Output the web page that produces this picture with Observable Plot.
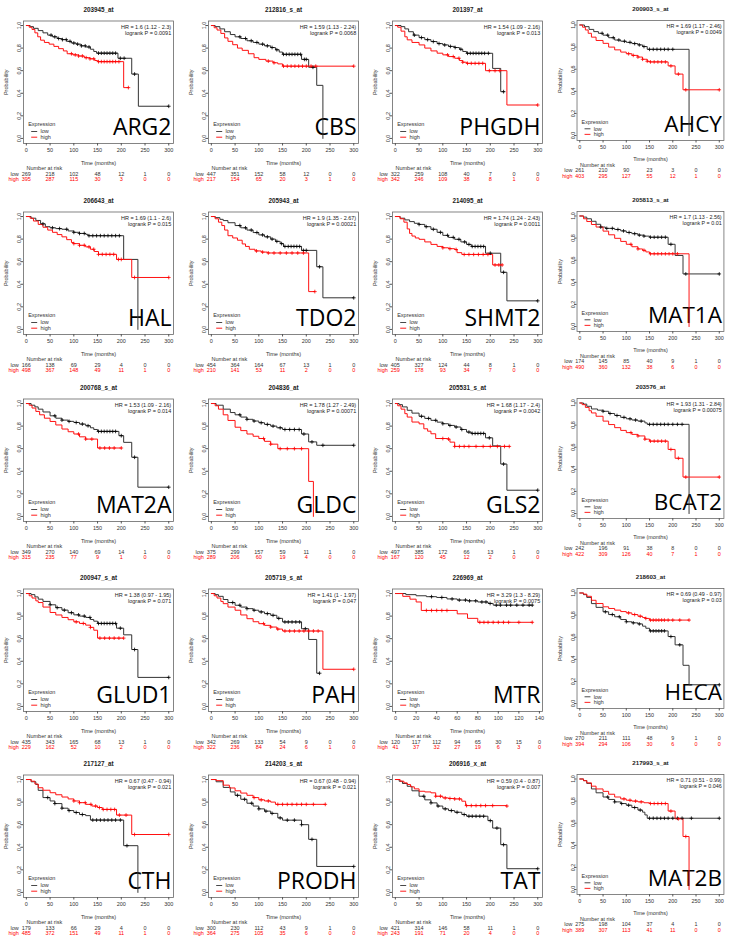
<!DOCTYPE html>
<html><head><meta charset="utf-8">
<script src="https://cdn.jsdelivr.net/npm/d3@7"></script>
<script src="https://cdn.jsdelivr.net/npm/@observablehq/plot@0.6"></script>
<style>
body{margin:0;background:#fff}
#grid{position:relative;width:734px;height:940px;overflow:hidden;background:#fff}
.panel{position:absolute}
.panel svg{overflow:visible}
</style>
</head><body><div id="grid"></div>
<script>
// ---------- data ----------
const probes = ["203945_at","212816_s_at","201397_at","200903_s_at","206643_at","205943_at","214095_at","205813_s_at","200768_s_at","204836_at","205531_s_at","203576_at","200947_s_at","205719_s_at","226969_at","218603_at","217127_at","214203_s_at","206916_x_at","217993_s_at"];
const genes = ["ARG2","CBS","PHGDH","AHCY","HAL","TDO2","SHMT2","MAT1A","MAT2A","GLDC","GLS2","BCAT2","GLUD1","PAH","MTR","HECA","CTH","PRODH","TAT","MAT2B"];
const hrLabels = ["HR = 1.6 (1.12 - 2.3)","HR = 1.59 (1.13 - 2.24)","HR = 1.54 (1.09 - 2.16)","HR = 1.69 (1.17 - 2.46)","HR = 1.69 (1.1 - 2.6)","HR = 1.9 (1.35 - 2.67)","HR = 1.74 (1.24 - 2.43)","HR = 1.7 (1.13 - 2.56)","HR = 1.53 (1.09 - 2.16)","HR = 1.78 (1.27 - 2.49)","HR = 1.68 (1.17 - 2.4)","HR = 1.93 (1.31 - 2.84)","HR = 1.38 (0.97 - 1.95)","HR = 1.41 (1 - 1.97)","HR = 3.29 (1.3 - 8.29)","HR = 0.69 (0.49 - 0.97)","HR = 0.67 (0.47 - 0.94)","HR = 0.67 (0.48 - 0.94)","HR = 0.59 (0.4 - 0.87)","HR = 0.71 (0.51 - 0.99)"];
const pLabels = ["0.0091","0.0068","0.013","0.0049","0.015","0.00021","0.0011","0.01","0.014","0.00071","0.0042","0.00075","0.071","0.047","0.0075","0.03","0.021","0.021","0.007","0.046"];
const timeTicks = [0,50,100,150,200,250,300];
const timeTicksMTR = [0,20,40,60,80,100,120,140];
const probTicks = [0,0.2,0.4,0.6,0.8,1.0];
const riskLow = [
 [269,218,102,48,12,1,0],[447,351,152,58,12,0,0],[322,259,108,40,7,0,0],[261,210,90,23,3,0,0],
 [166,138,69,29,4,0,0],[454,364,164,67,13,1,0],[405,327,124,44,8,1,0],[174,145,85,40,9,1,0],
 [349,270,140,69,14,1,0],[375,299,157,59,11,1,0],[497,385,172,66,13,1,0],[242,196,91,38,8,0,0],
 [435,343,165,68,13,1,0],[342,269,133,54,9,0,0],[120,117,112,94,65,30,15,0],[270,211,111,48,9,1,0],
 [179,133,66,29,4,0,0],[300,230,112,43,9,1,0],[421,314,146,58,11,1,0],[275,198,104,37,4,1,0]];
const riskHigh = [
 [395,287,115,30,3,0,0],[217,154,65,20,3,1,0],[342,246,109,38,8,1,0],[403,295,127,55,12,1,0],
 [498,367,148,49,11,1,0],[210,141,53,11,2,0,0],[259,178,93,34,7,0,0],[490,360,132,38,6,0,0],
 [315,235,77,9,1,0,0],[289,206,60,19,4,0,0],[167,120,45,12,2,0,0],[422,309,126,40,7,1,0],
 [229,162,52,10,2,0,0],[322,236,84,24,6,1,0],[41,37,32,27,19,6,3,0],[394,294,106,30,6,0,0],
 [485,372,151,49,11,1,0],[364,275,105,35,6,0,0],[243,191,71,20,4,0,0],[389,307,113,41,11,0,0]];
// Kaplan-Meier step points [time, survival] for the "low" group
const lowCurves = [
 [[0,1],[8,0.99],[15,0.975],[25,0.955],[35,0.935],[45,0.915],[55,0.9],[65,0.885],[75,0.875],[85,0.86],[95,0.845],[105,0.835],[115,0.82],[125,0.81],[135,0.79],[142,0.77],[148,0.755],[193,0.71],[222,0.57],[236,0.285],[300,0.285]],
 [[0,1],[8,0.99],[18,0.97],[28,0.945],[40,0.92],[50,0.9],[62,0.885],[75,0.865],[88,0.85],[100,0.835],[112,0.82],[125,0.805],[135,0.785],[143,0.765],[150,0.745],[190,0.7],[205,0.63],[222,0.47],[235,0]],
 [[0,1],[12,0.99],[20,0.97],[28,0.945],[38,0.915],[50,0.893],[62,0.875],[75,0.858],[88,0.84],[100,0.828],[112,0.815],[125,0.805],[135,0.79],[142,0.77],[150,0.754],[205,0.62],[222,0.414],[230,0.414]],
 [[0,1],[10,0.985],[20,0.96],[30,0.94],[40,0.925],[50,0.908],[62,0.885],[75,0.864],[88,0.853],[100,0.843],[112,0.832],[125,0.82],[135,0.805],[145,0.78],[235,0]],
 [[0,1],[10,0.985],[20,0.965],[30,0.935],[40,0.91],[50,0.9],[62,0.893],[75,0.887],[88,0.872],[100,0.86],[112,0.85],[125,0.842],[130,0.83],[205,0.62],[235,0]],
 [[0,1],[8,0.99],[18,0.975],[25,0.964],[35,0.945],[50,0.92],[62,0.9],[75,0.88],[88,0.858],[100,0.837],[112,0.82],[125,0.8],[135,0.78],[145,0.76],[152,0.735],[190,0.7],[222,0.555],[235,0.28],[300,0.28]],
 [[0,1],[10,0.985],[20,0.97],[30,0.955],[40,0.94],[50,0.93],[62,0.91],[75,0.887],[88,0.86],[100,0.833],[112,0.815],[125,0.798],[138,0.775],[150,0.753],[160,0.735],[190,0.675],[222,0.506],[235,0.253],[300,0.253]],
 [[0,1],[8,0.99],[15,0.975],[25,0.952],[35,0.925],[45,0.9],[55,0.888],[75,0.878],[88,0.865],[100,0.851],[112,0.84],[125,0.827],[138,0.818],[150,0.808],[190,0.744],[205,0.643],[222,0.476],[300,0.476]],
 [[0,1],[10,0.985],[18,0.97],[25,0.95],[35,0.925],[50,0.891],[62,0.87],[75,0.853],[88,0.842],[100,0.832],[112,0.818],[125,0.803],[135,0.785],[142,0.77],[150,0.753],[195,0.715],[205,0.656],[222,0.524],[235,0.259],[300,0.259]],
 [[0,1],[10,0.985],[25,0.95],[40,0.92],[50,0.9],[62,0.88],[75,0.86],[88,0.845],[100,0.83],[112,0.815],[125,0.8],[138,0.785],[150,0.77],[190,0.73],[205,0.66],[222,0.63],[300,0.63]],
 [[0,1],[8,0.99],[15,0.97],[25,0.94],[35,0.915],[50,0.887],[62,0.868],[75,0.851],[88,0.835],[100,0.821],[112,0.806],[125,0.792],[138,0.77],[150,0.747],[160,0.735],[190,0.696],[205,0.625],[222,0.464],[235,0.232],[300,0.232]],
 [[0,1],[8,0.99],[15,0.97],[25,0.946],[38,0.935],[50,0.925],[62,0.905],[75,0.887],[88,0.87],[100,0.857],[112,0.846],[125,0.836],[140,0.82],[145,0.807],[235,0]],
 [[0,1],[10,0.99],[18,0.97],[25,0.95],[35,0.93],[50,0.9],[62,0.875],[75,0.853],[88,0.83],[100,0.811],[112,0.8],[125,0.788],[135,0.77],[142,0.755],[150,0.735],[190,0.693],[205,0.634],[222,0.504],[235,0.257],[300,0.257]],
 [[0,1],[8,0.99],[15,0.975],[25,0.947],[35,0.92],[50,0.896],[62,0.88],[75,0.866],[88,0.852],[100,0.837],[112,0.822],[125,0.807],[138,0.78],[150,0.748],[190,0.688],[205,0.593],[222,0.294],[228,0.294]],
 [[0,1],[10,0.99],[20,0.98],[30,0.972],[40,0.965],[50,0.952],[60,0.942],[70,0.935],[80,0.925],[90,0.912],[95,0.897],[133,0.897]],
 [[0,1],[8,0.985],[15,0.96],[25,0.904],[35,0.87],[50,0.83],[62,0.805],[75,0.785],[88,0.76],[100,0.74],[112,0.73],[125,0.72],[135,0.7],[142,0.681],[150,0.657],[190,0.606],[205,0.531],[222,0.346],[235,0.17],[300,0.17]],
 [[0,1],[10,0.98],[20,0.956],[25,0.904],[35,0.84],[50,0.81],[60,0.787],[75,0.746],[88,0.725],[100,0.708],[112,0.69],[125,0.68],[135,0.641],[205,0.414],[235,0]],
 [[0,1],[10,0.98],[25,0.93],[40,0.89],[50,0.86],[62,0.825],[75,0.79],[88,0.765],[100,0.74],[112,0.72],[125,0.7],[140,0.66],[150,0.64],[190,0.6],[205,0.47],[222,0.23],[300,0.23]],
 [[0,1],[8,0.985],[15,0.965],[25,0.94],[35,0.9],[50,0.852],[62,0.82],[75,0.793],[88,0.765],[100,0.74],[112,0.725],[125,0.71],[140,0.69],[150,0.675],[195,0.636],[205,0.57],[222,0.423],[235,0.21],[300,0.21]],
 [[0,1],[8,0.985],[15,0.96],[25,0.91],[35,0.875],[50,0.837],[62,0.815],[75,0.793],[88,0.778],[100,0.763],[112,0.742],[125,0.719],[135,0.7],[140,0.675],[145,0.645],[300,0.645]]];
// Kaplan-Meier step points [time, survival] for the "high" group
const highCurves = [
 [[0,1],[6,0.985],[12,0.965],[18,0.935],[24,0.9],[30,0.87],[38,0.85],[48,0.835],[58,0.815],[68,0.795],[78,0.775],[86,0.75],[98,0.74],[110,0.73],[122,0.715],[134,0.705],[144,0.69],[150,0.68],[205,0.45],[215,0.45]],
 [[0,1],[6,0.98],[12,0.96],[20,0.93],[28,0.89],[35,0.86],[45,0.83],[55,0.8],[65,0.78],[78,0.75],[90,0.715],[100,0.7],[115,0.685],[130,0.67],[140,0.66],[150,0.64],[300,0.64]],
 [[0,1],[5,0.985],[12,0.95],[20,0.9],[25,0.873],[35,0.85],[50,0.828],[62,0.8],[75,0.775],[88,0.755],[100,0.74],[112,0.725],[125,0.71],[135,0.69],[142,0.675],[150,0.665],[190,0.6],[235,0.296],[300,0.296]],
 [[0,1],[6,0.98],[12,0.955],[18,0.925],[25,0.89],[35,0.86],[50,0.834],[62,0.8],[75,0.775],[88,0.755],[100,0.74],[112,0.725],[125,0.71],[135,0.69],[145,0.672],[150,0.666],[190,0.63],[205,0.556],[222,0.414],[300,0.414]],
 [[0,1],[8,0.985],[15,0.96],[25,0.93],[35,0.905],[45,0.88],[55,0.86],[65,0.84],[75,0.82],[85,0.795],[95,0.77],[100,0.76],[112,0.745],[125,0.731],[135,0.71],[143,0.69],[152,0.665],[190,0.62],[222,0.46],[300,0.46]],
 [[0,1],[8,0.98],[15,0.95],[22,0.92],[28,0.88],[35,0.83],[45,0.81],[55,0.79],[65,0.757],[72,0.735],[80,0.71],[92,0.695],[105,0.685],[118,0.677],[205,0.335],[218,0.335]],
 [[0,1],[10,0.98],[18,0.95],[25,0.89],[30,0.85],[35,0.827],[42,0.81],[50,0.798],[62,0.775],[75,0.753],[88,0.735],[100,0.723],[112,0.715],[125,0.708],[130,0.68],[140,0.664],[205,0.571],[225,0.571]],
 [[0,1],[8,0.975],[15,0.95],[25,0.923],[35,0.9],[50,0.863],[62,0.83],[75,0.798],[88,0.77],[100,0.744],[112,0.722],[125,0.702],[135,0.69],[142,0.675],[150,0.658],[235,0]],
 [[0,1],[6,0.985],[12,0.96],[20,0.93],[28,0.9],[38,0.87],[50,0.841],[62,0.81],[75,0.774],[88,0.75],[100,0.73],[112,0.705],[125,0.685],[150,0.606],[200,0.606]],
 [[0,1],[8,0.98],[15,0.95],[25,0.9],[35,0.85],[50,0.79],[62,0.76],[75,0.73],[88,0.71],[100,0.69],[112,0.665],[125,0.64],[140,0.6],[205,0.31],[215,0]],
 [[0,1],[5,0.98],[12,0.95],[20,0.91],[25,0.88],[35,0.836],[50,0.82],[60,0.776],[68,0.755],[75,0.732],[85,0.69],[110,0.685],[115,0.658],[125,0.62],[240,0.62]],
 [[0,1],[5,0.985],[12,0.96],[20,0.93],[25,0.91],[35,0.88],[50,0.836],[62,0.805],[75,0.777],[88,0.752],[100,0.732],[112,0.716],[125,0.702],[140,0.673],[150,0.655],[190,0.58],[205,0.5],[222,0.33],[300,0.33]],
 [[0,1],[6,0.98],[12,0.96],[20,0.935],[25,0.92],[35,0.88],[50,0.832],[62,0.81],[75,0.788],[88,0.768],[100,0.749],[112,0.735],[125,0.72],[135,0.7],[142,0.675],[150,0.605],[205,0.605]],
 [[0,1],[6,0.98],[12,0.96],[20,0.93],[25,0.91],[35,0.88],[50,0.852],[62,0.81],[75,0.777],[88,0.75],[100,0.733],[112,0.718],[125,0.703],[138,0.685],[150,0.668],[235,0.329],[300,0.329]],
 [[0,1],[7,0.975],[14,0.95],[20,0.925],[25,0.85],[60,0.82],[70,0.78],[80,0.745],[133,0.745]],
 [[0,1],[8,0.99],[15,0.97],[25,0.934],[35,0.905],[50,0.875],[62,0.86],[75,0.845],[88,0.832],[100,0.82],[112,0.805],[125,0.79],[135,0.778],[142,0.77],[150,0.755],[235,0.755]],
 [[0,1],[10,0.985],[18,0.96],[25,0.927],[35,0.905],[50,0.883],[62,0.865],[75,0.845],[88,0.828],[100,0.81],[112,0.795],[125,0.78],[138,0.765],[150,0.752],[160,0.735],[190,0.685],[222,0.513],[300,0.513]],
 [[0,1],[10,0.99],[25,0.95],[38,0.925],[50,0.9],[62,0.88],[75,0.86],[88,0.84],[100,0.82],[112,0.81],[125,0.8],[135,0.78],[240,0.78]],
 [[0,1],[10,0.985],[18,0.97],[25,0.956],[32,0.935],[40,0.917],[50,0.896],[62,0.89],[75,0.882],[85,0.852],[100,0.837],[112,0.832],[125,0.828],[140,0.808],[148,0.769],[235,0.765]],
 [[0,1],[8,0.985],[15,0.965],[25,0.935],[35,0.91],[50,0.888],[62,0.862],[75,0.837],[88,0.82],[100,0.808],[112,0.8],[125,0.793],[138,0.785],[150,0.778],[190,0.71],[205,0.64],[222,0.48],[235,0]]];
// censoring times (months)
const lowCensor = [
 [52,60,68,76,84,92,100,108,116,124,132,152,158,164,170,176,182,188,198,206,228,300],
 [60,72,84,96,108,118,128,138,152,158,164,170,176,182,188,196,200,214],
 [40,55,68,80,92,104,116,126,138,152,158,164,170,176,182,188,196,228],
 [48,60,72,84,96,108,118,128,138,150,158,166,174,182,190,200],
 [35,55,70,85,100,112,122,132,140,148,156,164,172,180,188,196],
 [60,72,84,96,108,118,128,138,148,155,162,168,174,180,186,194,200,228,300],
 [50,65,80,95,110,122,134,146,155,162,168,174,180,186,200,228,300],
 [45,58,70,82,94,106,118,128,138,152,160,168,176,184,196,228,300],
 [60,75,90,105,118,130,152,158,164,170,176,182,188,200,228,300],
 [60,75,90,105,118,130,145,155,165,175,185,195,212,235,300],
 [55,70,85,100,115,128,140,155,162,168,174,180,186,198,228,300],
 [50,65,80,95,108,120,132,150,158,166,174,182,190,200,210,220],
 [50,65,80,95,110,122,134,152,158,164,170,176,182,188,198,228,300],
 [45,60,75,90,105,118,130,142,155,162,170,178,186,198,228],
 [35,45,55,62,68,72,78,84,88,92,98,102,108,112,118,124,130,133],
 [55,70,85,100,115,128,152,158,164,170,176,182,196,215,300],
 [45,60,75,90,105,118,140,148,156,164,172,180,188,198,212],
 [55,70,85,100,115,128,145,160,175,190,212,300],
 [60,75,90,105,118,130,145,155,162,170,178,186,200,214,228,300],
 [60,75,90,105,118,130,150,158,166,174,182,190,200,210,220,240,300]];
const highCensor = [
 [95,103,110,118,126,134,142,152,158,164,170,176,182,188,195,215],
 [120,132,152,160,168,176,184,192,200,210,220,300],
 [110,122,134,142,152,160,168,176,184,198,210,220,300],
 [105,115,125,135,145,152,160,168,176,184,196,212,228,300],
 [100,112,122,132,142,152,160,168,176,184,194,200,228,300],
 [95,108,120,132,145,158,170,182,194,218],
 [100,115,128,145,155,165,175,185,195,210,218,225],
 [110,125,138,152,160,168,176,184,192,200,210],
 [110,125,138,155,165,175,185,200],
 [110,125,145,160,175,190],
 [100,112,125,135,145,155,170,185,200,215,230,240],
 [110,125,140,152,160,168,176,184,196,212,228,300],
 [105,120,135,155,165,175,185,195,205],
 [110,125,140,155,165,175,185,195,205,215,225,300],
 [30,35,40,45,50,82,86,90,95,100,105,110,120,133],
 [105,118,130,142,152,158,164,170,176,182,190,200,215,235],
 [100,112,124,136,146,154,162,170,178,186,196,210,228,300],
 [90,105,120,140,150,160,170,180,190,200,215,240],
 [85,95,105,115,125,135,150,160,170,180,190,205,235],
 [95,108,120,132,152,160,168,176,184,196,212,228]];

// ---------- layout ----------
const colLeft = [0, 184.6, 369.2, 553.8];
const rowTop = [0, 191, 378, 568, 754];
const FONT = "'Liberation Sans', Arial, sans-serif";
const INK = "#333", RED = "#f00";

function surv(curve, t) { let s = 1; for (const [ct, cs] of curve) if (ct <= t) s = cs; return s; }
const legendLine = {draw(ctx) { ctx.moveTo(-3, 0); ctx.lineTo(3, 0); }};

function panel(i) {
  const mtr = genes[i] === "MTR";
  const ticks = mtr ? timeTicksMTR : timeTicks;
  const low = lowCurves[i].map(([t, s]) => ({t, s}));
  const high = highCurves[i].map(([t, s]) => ({t, s}));
  const lowC = lowCensor[i].map(t => ({t, s: surv(lowCurves[i], t)}));
  const highC = highCensor[i].map(t => ({t, s: surv(highCurves[i], t)}));
  const fs = 5.5;
  return Plot.plot({
    width: 184, height: 190,
    marginLeft: 23, marginRight: 11, marginTop: 20.5, marginBottom: 47,
    x: {domain: mtr ? [-3, 143] : [-6, 310]},
    y: {domain: [-0.045, 1.04]},
    style: {fontFamily: FONT, fontSize: fs + "px", color: INK, background: "white", overflow: "visible"},
    marks: [
      Plot.frame({stroke: "#666", strokeWidth: 0.8}),
      Plot.axisX({ticks, tickSize: 2.5, tickPadding: 2.5, label: null, fontSize: fs, stroke: "#555"}),
      Plot.axisY({ticks: probTicks, tickSize: 2.5, tickFormat: () => "", label: null, stroke: "#555"}),
      Plot.text(probTicks, {y: d => d, frameAnchor: "left", text: d => d.toFixed(1), rotate: -90, dx: -4.2, textAnchor: "middle", lineAnchor: "middle", fontSize: fs, fill: INK}),
      Plot.text(["Probability"], {frameAnchor: "left", rotate: -90, dx: -17, textAnchor: "middle", lineAnchor: "middle", fontSize: fs, fill: INK}),
      Plot.text(["Time (months)"], {frameAnchor: "bottom", dy: 19.5, lineAnchor: "middle", fontSize: fs, fill: INK}),
      Plot.text([probes[i]], {frameAnchor: "top", dy: -11.3, lineAnchor: "middle", fontSize: 6.3, fontWeight: "bold", fill: "#222"}),
      Plot.text([hrLabels[i] + "\nlogrank P = " + pLabels[i]], {frameAnchor: "top-right", dx: -2.3, dy: 3.3, textAnchor: "end", lineAnchor: "top", lineHeight: 1.15, fontSize: 5.5, fill: "#222"}),
      Plot.text([genes[i]], {frameAnchor: "bottom-right", dx: -2, dy: -16, textAnchor: "end", lineAnchor: "middle", fontSize: 23, fontFamily: "'Open Sans', sans-serif", fill: "#000"}),
      Plot.text(["Expression"], {frameAnchor: "bottom-left", dx: 4.7, dy: -19, textAnchor: "start", lineAnchor: "middle", fontSize: fs, fill: INK}),
      Plot.dot([0], {frameAnchor: "bottom-left", dx: 10.7, dy: -12, symbol: legendLine, stroke: "#333", fill: "none", strokeWidth: 0.9}),
      Plot.dot([0], {frameAnchor: "bottom-left", dx: 10.7, dy: -6.3, symbol: legendLine, stroke: RED, fill: "none", strokeWidth: 0.9}),
      Plot.text(["low"], {frameAnchor: "bottom-left", dx: 17, dy: -12, textAnchor: "start", lineAnchor: "middle", fontSize: fs, fill: INK}),
      Plot.text(["high"], {frameAnchor: "bottom-left", dx: 17, dy: -6.3, textAnchor: "start", lineAnchor: "middle", fontSize: fs, fill: INK}),
      Plot.line(low, {x: "t", y: "s", curve: "step-after", stroke: "#333", strokeWidth: 1}),
      Plot.line(high, {x: "t", y: "s", curve: "step-after", stroke: "#f11", strokeWidth: 1}),
      Plot.dot(lowC, {x: "t", y: "s", symbol: "plus", r: 1.3, stroke: "#000", strokeWidth: 0.8}),
      Plot.dot(highC, {x: "t", y: "s", symbol: "plus", r: 1.3, stroke: RED, strokeWidth: 0.8}),
      // number at risk table
      Plot.text(["Number at risk"], {frameAnchor: "bottom-left", dx: 3, dy: 25, textAnchor: "start", lineAnchor: "middle", fontSize: fs, fill: INK}),
      Plot.text(["low"], {frameAnchor: "bottom-left", dx: -4.7, dy: 30.5, textAnchor: "end", lineAnchor: "middle", fontSize: fs, fill: INK}),
      Plot.text(["high"], {frameAnchor: "bottom-left", dx: -4.7, dy: 36, textAnchor: "end", lineAnchor: "middle", fontSize: fs, fill: RED}),
      Plot.text(riskLow[i], {x: (d, j) => ticks[j], frameAnchor: "bottom", dy: 30.5, text: d => String(d), lineAnchor: "middle", fontSize: fs, fill: INK}),
      Plot.text(riskHigh[i], {x: (d, j) => ticks[j], frameAnchor: "bottom", dy: 36, text: d => String(d), lineAnchor: "middle", fontSize: fs, fill: RED})
    ]
  });
}

const grid = document.getElementById("grid");
genes.forEach((g, i) => {
  const div = document.createElement("div");
  div.className = "panel";
  div.style.left = colLeft[i % 4] + "px";
  div.style.top = rowTop[Math.floor(i / 4)] + "px";
  div.appendChild(panel(i));
  grid.appendChild(div);
});
</script>
</body></html>
